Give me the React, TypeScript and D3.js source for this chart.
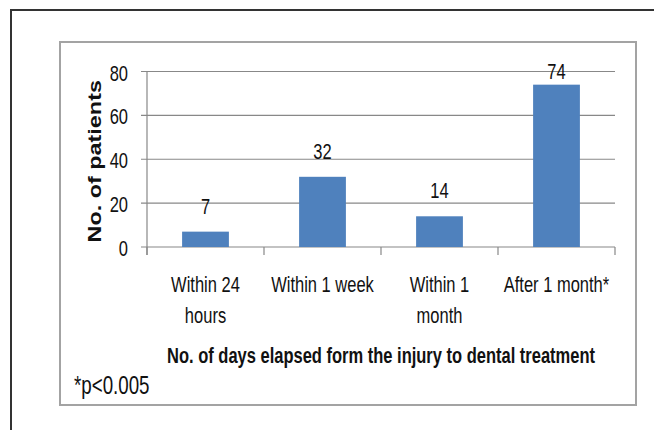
import React from "react";
import * as d3 from "d3";

// chart values
const categories = ["Within 24 hours", "Within 1 week", "Within 1 month", "After 1 month*"];
const categoryLines = [["Within 24", "hours"], ["Within 1 week"], ["Within 1", "month"], ["After 1 month*"]];
const patients = [7, 32, 14, 74];
const yTicks = [0, 20, 40, 60, 80];
const yTitle = "No. of patients";
const xTitle = "No. of days elapsed form the injury to dental treatment";
const footnote = "*p<0.005";

const W = 654;
const H = 430;
const FONT = "'Liberation Sans', Arial, sans-serif";
const SX = 0.75; // the picture is squeezed sideways, so text is narrow
const BAR = "#4f81bd";
const GRID = "#888";
const INK = "#111";

// text with the horizontal squeeze of the reference
const Label = ({ x, y, anchor = "middle", size = 22, bold = false, children }: any) => (
  <text
    transform={`translate(${x},${y}) scale(${SX},1)`}
    textAnchor={anchor}
    fontFamily={FONT}
    fontSize={size}
    fontWeight={bold ? "bold" : "normal"}
    fill={INK}
  >
    {children}
  </text>
);

export default function App() {
  const margin = { left: 147, right: 615, top: 71.5, bottom: 247 };

  const x = d3
    .scaleBand<string>()
    .domain(categories)
    .range([margin.left, margin.right])
    .paddingInner(0.6)
    .paddingOuter(0.3);

  const y = d3.scaleLinear().domain([0, 80]).range([margin.bottom, margin.top]);

  const step = x.step();
  const boundaries = d3.range(categories.length + 1).map((i) => margin.left + i * step);

  return (
    <svg width={W} height={H} style={{ position: "absolute", left: 0, top: 0, background: "#fff" }}>
      {/* outer frame, cut by the picture edge */}
      <line x1={10} y1={10} x2={W} y2={10} stroke="#333" strokeWidth={2} />
      <line x1={11} y1={10} x2={11} y2={H} stroke="#333" strokeWidth={2} />

      {/* chart area box */}
      <rect x={60} y={42} width={576} height={363} fill="#fff" stroke="#a3a3a3" strokeWidth={2} />

      {/* gridlines and y ticks */}
      {yTicks.map((t) => (
        <g key={t}>
          <line x1={margin.left - 6} x2={margin.right} y1={y(t)} y2={y(t)} stroke={GRID} strokeWidth={1.2} />
          <Label x={128} y={y(t) + 9} anchor="end">
            {t}
          </Label>
        </g>
      ))}

      {/* y axis */}
      <line x1={margin.left} x2={margin.left} y1={margin.top} y2={margin.bottom + 8} stroke={GRID} strokeWidth={1.2} />

      {/* x tick marks between categories */}
      {boundaries.map((b, i) => (
        <line key={i} x1={b} x2={b} y1={margin.bottom} y2={margin.bottom + 8} stroke={GRID} strokeWidth={1.2} />
      ))}

      {/* bars */}
      {categories.map((c, i) => (
        <rect
          key={c}
          x={x(c)}
          y={y(patients[i])}
          width={x.bandwidth()}
          height={y(0) - y(patients[i])}
          fill={BAR}
        />
      ))}

      {/* value labels */}
      {categories.map((c, i) => (
        <Label
          key={c}
          x={(x(c) as number) + x.bandwidth() / 2}
          y={Math.max(y(patients[i]) - 18, y(80) + 7)}
        >
          {patients[i]}
        </Label>
      ))}

      {/* category labels */}
      {categories.map((c, i) =>
        categoryLines[i].map((line, j) => (
          <Label key={c + j} x={(x(c) as number) + x.bandwidth() / 2} y={292 + j * 31}>
            {line}
          </Label>
        ))
      )}

      {/* axis titles */}
      <text
        transform={`translate(101,${(margin.top + margin.bottom) / 2 + 2}) rotate(-90) scale(1.17,0.92)`}
        textAnchor="middle"
        fontFamily={FONT}
        fontSize={20}
        fontWeight="bold"
        fill={INK}
      >
        {yTitle}
      </text>
      <Label x={(margin.left + margin.right) / 2} y={363} bold>
        {xTitle}
      </Label>
      <Label x={74} y={394} anchor="start" size={25}>
        {footnote}
      </Label>
    </svg>
  );
}
